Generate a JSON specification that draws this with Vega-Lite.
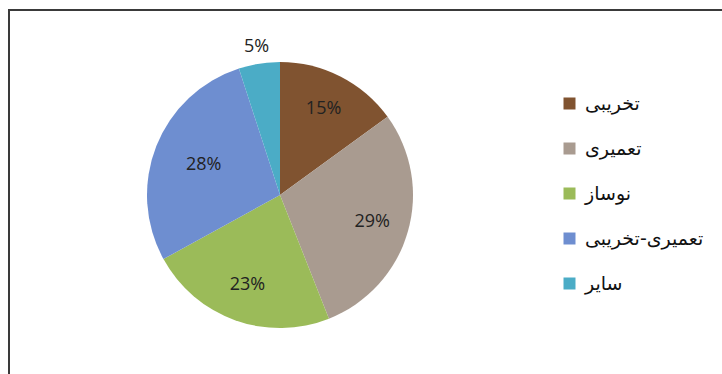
{
  "$schema": "https://vega.github.io/schema/vega-lite/v6.json",
  "autosize": {"type": "none"},
  "padding": {"left": 9, "top": 10, "right": 0, "bottom": 0},
  "width": 720,
  "height": 370,
  "background": "white",
  "config": {"view": {"stroke": null}},
  "data": {"values": [
    {"idx": 1, "cat": "تخریبی", "value": 15, "label": "15%"},
    {"idx": 2, "cat": "تعمیری", "value": 29, "label": "29%"},
    {"idx": 3, "cat": "نوساز", "value": 23, "label": "23%"},
    {"idx": 4, "cat": "تعمیری-تخریبی", "value": 28, "label": "28%"},
    {"idx": 5, "cat": "سایر", "value": 5, "label": "5%"}
  ]},
  "layer": [
    {
      "data": {"values": [{"frame": 1}]},
      "mark": {"type": "rect", "fill": null, "stroke": "#3a3a3a", "strokeWidth": 2},
      "encoding": {}
    },
    {
      "mark": {"type": "arc", "x": 271, "y": 185, "outerRadius": 133},
      "encoding": {
        "theta": {"field": "value", "type": "quantitative", "stack": true},
        "order": {"field": "idx", "type": "quantitative"},
        "color": {
          "field": "cat", "type": "nominal", "sort": null,
          "scale": {
            "domain": ["تخریبی", "تعمیری", "نوساز", "تعمیری-تخریبی", "سایر"],
            "range": ["#805330", "#a99b90", "#9bbb59", "#6e8ed0", "#4bacc6"]
          },
          "legend": {
            "title": null, "orient": "none", "legendX": 551, "legendY": 84,
            "symbolType": "square", "symbolSize": 144, "symbolStrokeWidth": 0,
            "labelFont": "DejaVu Sans", "labelFontSize": 19, "labelColor": "#111111",
            "rowPadding": 25, "labelOffset": 6
          }
        }
      }
    },
    {
      "mark": {"type": "text", "x": 271, "y": 185, "radius": 96, "font": "Open Sans", "fontSize": 18, "color": "#222222"},
      "encoding": {
        "theta": {"field": "value", "type": "quantitative", "stack": true},
        "order": {"field": "idx", "type": "quantitative"},
        "text": {"condition": {"test": "datum.idx <= 3", "field": "label"}, "value": ""}
      }
    },
    {
      "mark": {"type": "text", "x": 271, "y": 185, "radius": 82, "font": "Open Sans", "fontSize": 18, "color": "#222222"},
      "encoding": {
        "theta": {"field": "value", "type": "quantitative", "stack": true},
        "order": {"field": "idx", "type": "quantitative"},
        "text": {"condition": {"test": "datum.idx == 4", "field": "label"}, "value": ""}
      }
    },
    {
      "mark": {"type": "text", "x": 271, "y": 185, "radius": 150, "font": "Open Sans", "fontSize": 18, "color": "#222222"},
      "encoding": {
        "theta": {"field": "value", "type": "quantitative", "stack": true},
        "order": {"field": "idx", "type": "quantitative"},
        "text": {"condition": {"test": "datum.idx == 5", "field": "label"}, "value": ""}
      }
    }
  ]
}
